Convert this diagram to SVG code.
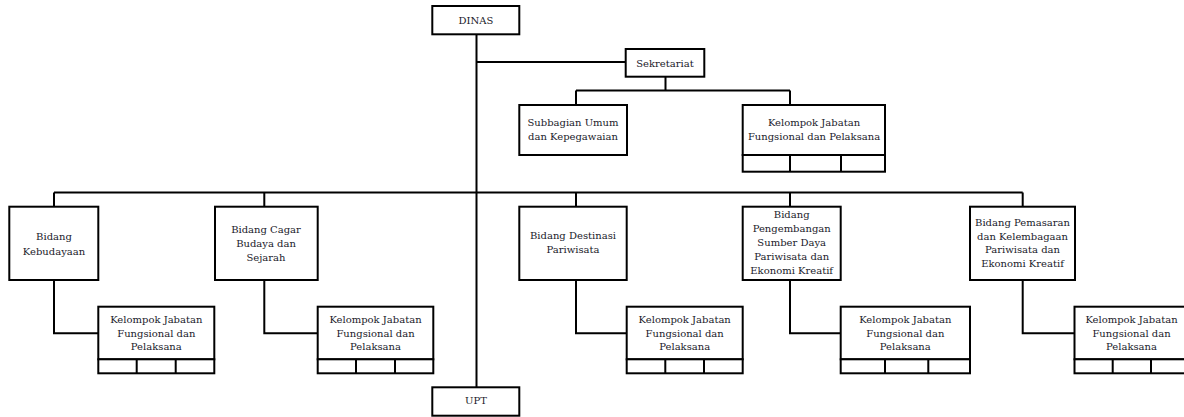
<svg xmlns="http://www.w3.org/2000/svg" width="1184" height="417" viewBox="0 0 1184 417">
<style>
.b{fill:#fff;stroke:#000;stroke-width:2}
.c{fill:none;stroke:#000;stroke-width:2}
text{font-family:"DejaVu Serif","Liberation Serif",serif;font-size:10px;fill:#1a1a2a;text-anchor:middle}
</style>
<rect width="1184" height="417" fill="#fff"/>
<g id="connectors">
<path class="c" d="M476.5 34V387"/>
<path class="c" d="M476.5 62H626"/>
<path class="c" d="M665.5 77V90.5M576 90.5H790M576 90.5V105M790 90.5V105"/>
<path class="c" d="M54 192.5H1022.7M54 192.5V207M264.3 192.5V207M576 192.5V207M790 192.5V207M1022.7 192.5V207"/>
<path class="c" d="M54 280V333.3H98.3"/>
<path class="c" d="M264.3 280V333.3H317.7"/>
<path class="c" d="M576 280V333.3H626.7"/>
<path class="c" d="M790 280V333.3H840.7"/>
<path class="c" d="M1022.7 280V333.3H1075"/>
</g>
<g id="dinas"><rect class="b" x="432.3" y="6" width="87" height="28.3"/><text x="476" y="23.5">DINAS</text></g>
<g id="sekretariat"><rect class="b" x="625.7" y="49" width="78.6" height="27.7"/><text x="665" y="66.5">Sekretariat</text></g>
<g id="subbagian"><rect class="b" x="519.3" y="105" width="107.7" height="50"/><text x="573" y="126.2">Subbagian Umum</text><text x="573" y="140.2">dan Kepegawaian</text></g>
<g id="kjf-sekretariat"><rect class="b" x="742.7" y="105" width="142.3" height="50"/><rect class="b" x="742.7" y="155" width="142.3" height="16.7"/><path class="c" d="M790 155V171.7M841 155V171.7"/><text x="814" y="126.2">Kelompok Jabatan</text><text x="814" y="140.2">Fungsional dan Pelaksana</text></g>
<g id="kebudayaan"><rect class="b" x="9.3" y="206.7" width="89" height="73.3"/><text x="54" y="240">Bidang</text><text x="54" y="254.5">Kebudayaan</text></g>
<g id="cagar"><rect class="b" x="215" y="206.7" width="102.7" height="73.3"/><text x="266" y="232.6">Bidang Cagar</text><text x="266" y="246.6">Budaya dan</text><text x="266" y="260.6">Sejarah</text></g>
<g id="destinasi"><rect class="b" x="519.3" y="206.7" width="107.4" height="73.3"/><text x="573" y="239.3">Bidang Destinasi</text><text x="573" y="253.3">Pariwisata</text></g>
<g id="pengembangan"><rect class="b" x="742.7" y="206.7" width="98" height="73.3"/><text x="791.7" y="218.3">Bidang</text><text x="791.7" y="232.3">Pengembangan</text><text x="791.7" y="246.3">Sumber Daya</text><text x="791.7" y="260.3">Pariwisata dan</text><text x="791.7" y="274.3">Ekonomi Kreatif</text></g>
<g id="pemasaran"><rect class="b" x="970" y="206.7" width="105" height="73.3"/><text x="1022.5" y="226">Bidang Pemasaran</text><text x="1022.5" y="239.5">dan Kelembagaan</text><text x="1022.5" y="253.3">Pariwisata dan</text><text x="1022.5" y="266.8">Ekonomi Kreatif</text></g>
<g id="kjf-1"><rect class="b" x="98.3" y="306.7" width="116" height="52.6"/><rect class="b" x="98.3" y="359.3" width="116" height="14"/><path class="c" d="M136.7 359.3V373.3M175.7 359.3V373.3"/><text x="156.3" y="322.6">Kelompok Jabatan</text><text x="156.3" y="336.6">Fungsional dan</text><text x="156.3" y="350">Pelaksana</text></g>
<g id="kjf-2"><rect class="b" x="317.7" y="306.7" width="115.6" height="52.6"/><rect class="b" x="317.7" y="359.3" width="115.6" height="14"/><path class="c" d="M356 359.3V373.3M395 359.3V373.3"/><text x="375.5" y="322.6">Kelompok Jabatan</text><text x="375.5" y="336.6">Fungsional dan</text><text x="375.5" y="350">Pelaksana</text></g>
<g id="kjf-3"><rect class="b" x="626.7" y="306.7" width="116" height="52.6"/><rect class="b" x="626.7" y="359.3" width="116" height="14"/><path class="c" d="M665.3 359.3V373.3M704 359.3V373.3"/><text x="684.7" y="322.6">Kelompok Jabatan</text><text x="684.7" y="336.6">Fungsional dan</text><text x="684.7" y="350">Pelaksana</text></g>
<g id="kjf-4"><rect class="b" x="840.7" y="306.7" width="129.3" height="52.6"/><rect class="b" x="840.7" y="359.3" width="129.3" height="14"/><path class="c" d="M885 359.3V373.3M928.3 359.3V373.3"/><text x="905.3" y="322.6">Kelompok Jabatan</text><text x="905.3" y="336.6">Fungsional dan</text><text x="905.3" y="350">Pelaksana</text></g>
<g id="kjf-5"><rect class="b" x="1074.5" y="306.7" width="115" height="52.6"/><rect class="b" x="1074.5" y="359.3" width="115" height="14"/><path class="c" d="M1112.7 359.3V373.3M1151 359.3V373.3"/><text x="1131.5" y="322.6">Kelompok Jabatan</text><text x="1131.5" y="336.6">Fungsional dan</text><text x="1131.5" y="350">Pelaksana</text></g>
<g id="upt"><rect class="b" x="432.3" y="387.3" width="87" height="28.4"/><text x="476" y="403.5">UPT</text></g>
</svg>
